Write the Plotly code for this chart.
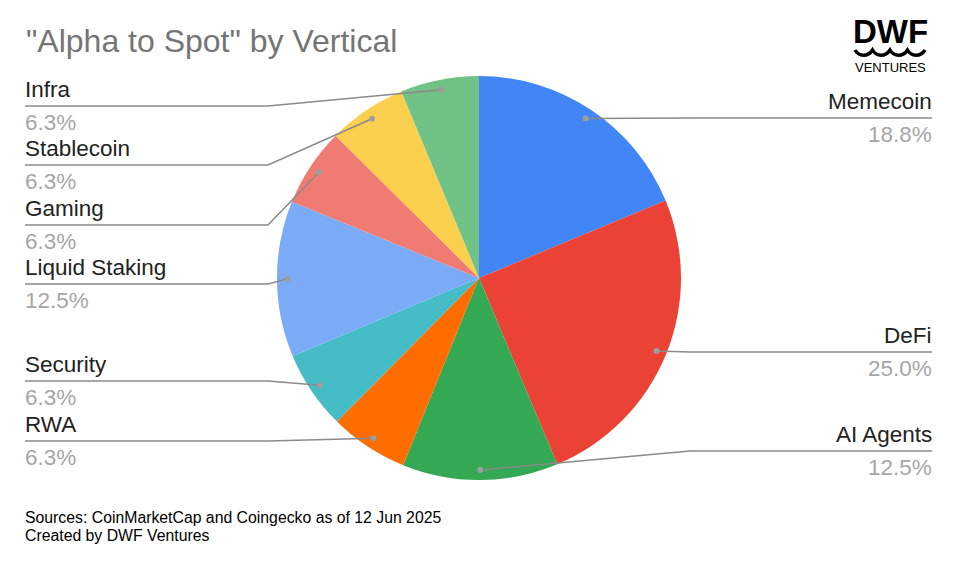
import math
import plotly.graph_objects as go

# ---- data ----
categories = ["Memecoin", "DeFi", "AI Agents", "RWA", "Security",
              "Liquid Staking", "Gaming", "Stablecoin", "Infra"]
shares = [18.8, 25.0, 12.5, 6.3, 6.3, 12.5, 6.3, 6.3, 6.3]
colors = ["#4285F4", "#EA4335", "#34A853", "#FF6D01", "#46BDC6",
          "#7BAAF7", "#F07B72", "#FCD04F", "#71C287"]

title_text = '"Alpha to Spot" by Vertical'
source_lines = ["Sources: CoinMarketCap and Coingecko as of 12 Jun 2025",
                "Created by DWF Ventures"]

# ---- layout (pixels) ----
W, H = 960, 564
CX, CY, R = 479, 278, 202
DOT_R = 0.95 * R
right_side = ["Memecoin", "DeFi", "AI Agents"]
label_line_y = {"Memecoin": 118, "DeFi": 352, "AI Agents": 451,
                "Infra": 106, "Stablecoin": 165, "Gaming": 225,
                "Liquid Staking": 284, "Security": 381, "RWA": 441}
LEFT_X, LEFT_ELBOW = 25, 268
RIGHT_X, RIGHT_ELBOW = 932, 690
FONT = "Liberation Sans, Arial, sans-serif"
LINE_COLOR = "#8a8a8a"
PAD = 2

fig = go.Figure()
fig.add_trace(go.Pie(
    labels=categories, values=shares, sort=False, direction="clockwise",
    rotation=0, marker=dict(colors=colors, line=dict(width=0)),
    textinfo="none", hoverinfo="label+percent", showlegend=False,
    domain=dict(x=[(CX - R) / W, (CX + R) / W],
                y=[1 - (CY + R) / H, 1 - (CY - R) / H]),
))

shapes = []
annotations = []
total = sum(shares)
cum = 0.0
for cat, v in zip(categories, shares):
    mid = (cum + v / 2) / total * 2 * math.pi
    cum += v
    dx = CX + DOT_R * math.sin(mid)
    dy = CY - DOT_R * math.cos(mid)
    ly = label_line_y[cat]
    if cat in right_side:
        xe, xl, anchor, tx = RIGHT_ELBOW, RIGHT_X, "right", RIGHT_X + PAD
    else:
        xe, xl, anchor, tx = LEFT_ELBOW, LEFT_X, "left", LEFT_X - PAD
    shapes.append(dict(type="path", xref="x", yref="y", layer="above",
                       path=f"M {xl} {ly} L {xe} {ly} L {dx:.1f} {dy:.1f}",
                       line=dict(color=LINE_COLOR, width=1.5)))
    shapes.append(dict(type="circle", xref="x", yref="y", layer="above",
                       x0=dx - 3, x1=dx + 3, y0=dy - 3, y1=dy + 3,
                       fillcolor="#9e9e9e", line=dict(width=0)))
    annotations.append(dict(x=tx, y=ly - 17, xref="x", yref="y", text=cat,
                            showarrow=False, xanchor=anchor, yanchor="middle",
                            font=dict(family=FONT, size=22.5, color="#222222")))
    annotations.append(dict(x=tx, y=ly + 16, xref="x", yref="y", text=f"{v:.1f}%",
                            showarrow=False, xanchor=anchor, yanchor="middle",
                            font=dict(family=FONT, size=22.5, color="#a6a6a6")))

# title
annotations.append(dict(x=24, y=41, xref="x", yref="y", text=title_text,
                        showarrow=False, xanchor="left", yanchor="middle",
                        font=dict(family=FONT, size=32, color="#757575")))
# sources
for i, t in enumerate(source_lines):
    annotations.append(dict(x=23, y=517 + 18 * i, xref="x", yref="y", text=t,
                            showarrow=False, xanchor="left", yanchor="middle",
                            font=dict(family=FONT, size=15.8, color="#000000")))
# logo
annotations.append(dict(x=890, y=31, xref="x", yref="y", text="<b>DWF</b>",
                        showarrow=False, xanchor="center", yanchor="middle",
                        font=dict(family="Liberation Sans Narrow, Liberation Sans, Arial", size=33,
                                  color="#000000")))
annotations.append(dict(x=890, y=67, xref="x", yref="y", text="VENTURES",
                        showarrow=False, xanchor="center", yanchor="middle",
                        font=dict(family=FONT, size=13, color="#000000")))
wave = "M 855 50"
x0 = 855
for k in range(4):
    wave += f" C {x0 + 4} 57 {x0 + 13} 57 {x0 + 17.5} 50"
    x0 += 17.5
shapes.append(dict(type="path", xref="x", yref="y", layer="above", path=wave,
                   line=dict(color="#000000", width=3.5)))

fig.update_layout(
    width=W, height=H, margin=dict(l=0, r=0, t=0, b=0),
    paper_bgcolor="white", plot_bgcolor="rgba(0,0,0,0)",
    xaxis=dict(range=[0, W], visible=False, fixedrange=True, domain=[0, 1]),
    yaxis=dict(range=[H, 0], visible=False, fixedrange=True, domain=[0, 1]),
    shapes=shapes, annotations=annotations, showlegend=False,
)
fig.write_html("out.html", config={"displayModeBar": False},
               post_script="document.body.style.margin='0px';document.body.style.overflow='hidden';")
